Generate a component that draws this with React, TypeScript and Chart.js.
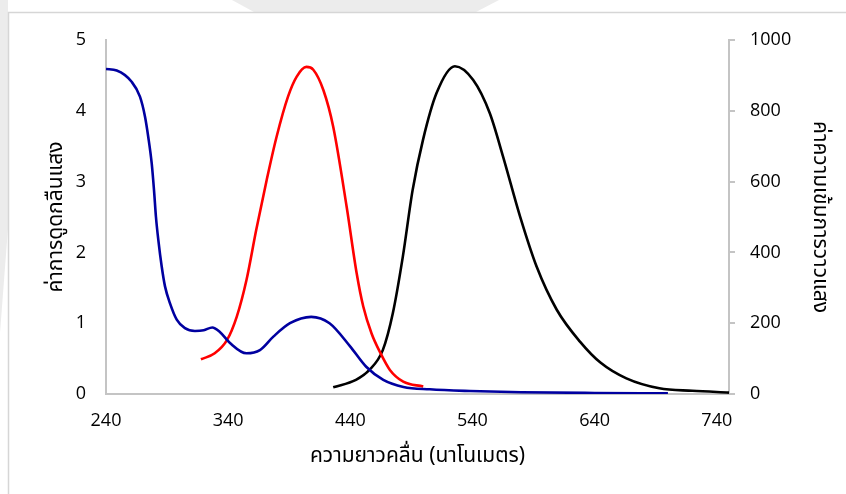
import React, { useEffect, useRef } from "react";
import { Chart, registerables } from "chart.js";

Chart.register(...registerables);

// Absorbance spectrum (left axis)
const ABS_WAVELENGTH = [240, 248.8, 261, 267.8, 271.9, 274.6, 277.4, 279.3, 280.9, 282.8, 285.6, 288.3, 292.4, 297.9, 304.6, 312.8, 320, 327, 333, 341.5, 355, 366, 377, 390.6, 408, 423, 440, 453, 467, 483.5, 505, 538, 580, 640, 700];
const ABSORBANCE = [4.59, 4.57, 4.41, 4.2, 3.92, 3.63, 3.26, 2.88, 2.5, 2.18, 1.8, 1.52, 1.28, 1.05, 0.93, 0.89, 0.9, 0.94, 0.88, 0.72, 0.575, 0.62, 0.81, 1.0, 1.09, 1.0, 0.67, 0.385, 0.2, 0.1, 0.066, 0.042, 0.025, 0.015, 0.01];

// Excitation spectrum (right axis)
const EXC_WAVELENGTH = [317.7, 329, 339, 347, 355, 363, 371.5, 379.6, 389, 396, 404, 409.7, 418, 426, 437, 445.2, 450.6, 457.4, 464.2, 472.4, 483.3, 499.7];
const EXCITATION = [98, 115, 152, 218, 322, 464, 604, 726, 840, 896, 924, 916, 858, 755, 529, 341, 247, 171, 119, 68, 35, 21];

// Emission spectrum (right axis)
const EMI_WAVELENGTH = [426, 444.6, 455.6, 466.6, 474.8, 483, 491, 499.5, 510.6, 525.6, 540.6, 554.2, 565.1, 579, 592.5, 609, 628, 645, 666, 693, 720, 750];
const EMISSION = [19, 40, 68, 124, 228, 388, 576, 718, 850, 926, 887, 793, 670, 501, 360, 238, 148, 88, 44, 16, 9, 4];

const X_TICKS = [240, 340, 440, 540, 640, 740];

const X_TITLE = "ความยาวคลื่น (นาโนเมตร)";
const Y_LEFT_TITLE = "ค่าการดูดกลืนแสง";
const Y_RIGHT_TITLE = "ค่าความเข้มการวาวแสง";

const FONT = "'Open Sans', 'Noto Sans', sans-serif";
const THAI_FONT = "'Noto Sans Thai', 'Tahoma', 'Noto Sans', 'DejaVu Sans', sans-serif";
const AXIS_GRAY = "#c4c4c4";

const pts = (xs: number[], ys: number[]) => xs.map((x, i) => ({ x, y: ys[i] }));

const backdrop = {
  id: "backdrop",
  beforeDraw(chart: Chart) {
    const { ctx, width, height } = chart;
    ctx.save();
    ctx.fillStyle = "#ffffff";
    ctx.fillRect(0, 0, width, height);
    // faint shapes behind the frame
    ctx.fillStyle = "#ececec";
    ctx.beginPath();
    ctx.moveTo(232, 0);
    ctx.lineTo(499, 0);
    ctx.lineTo(476, 12);
    ctx.lineTo(254, 12);
    ctx.closePath();
    ctx.fill();
    ctx.beginPath();
    ctx.moveTo(0, 0);
    ctx.lineTo(8, 0);
    ctx.lineTo(8, 228);
    ctx.lineTo(0, 333);
    ctx.closePath();
    ctx.fill();
    // chart frame
    ctx.fillStyle = "#ffffff";
    ctx.fillRect(8, 12, width, height);
    ctx.strokeStyle = "#d6d6d6";
    ctx.lineWidth = 1.5;
    ctx.beginPath();
    ctx.moveTo(8.5, height + 2);
    ctx.lineTo(8.5, 12.5);
    ctx.lineTo(width + 2, 12.5);
    ctx.stroke();
    ctx.restore();
  },
  afterDraw(chart: Chart) {
    const { ctx, chartArea } = chart;
    const midY = (chartArea.top + chartArea.bottom) / 2;
    const midX = (chartArea.left + chartArea.right) / 2;
    ctx.save();
    ctx.fillStyle = "#000000";
    ctx.font = `21px ${THAI_FONT}`;
    ctx.textAlign = "center";
    ctx.textBaseline = "middle";
    ctx.fillText(X_TITLE, midX, 458);

    ctx.save();
    ctx.translate(58, midY);
    ctx.rotate(-Math.PI / 2);
    ctx.fillText(Y_LEFT_TITLE, 0, 0);
    ctx.restore();

    ctx.save();
    ctx.translate(818, midY);
    ctx.rotate(Math.PI / 2);
    ctx.fillText(Y_RIGHT_TITLE, 0, 0);
    ctx.restore();
    ctx.restore();
  },
};

export default function App() {
  const ref = useRef<HTMLCanvasElement | null>(null);

  useEffect(() => {
    if (!ref.current) return;
    const line = {
      pointRadius: 0,
      borderWidth: 2.6,
      cubicInterpolationMode: "monotone" as const,
      fill: false,
    };
    const tickFont = { family: FONT, size: 18 };
    const chart = new Chart(ref.current, {
      type: "line",
      data: {
        datasets: [
          { ...line, data: pts(ABS_WAVELENGTH, ABSORBANCE), borderColor: "#0000a0", yAxisID: "y" },
          { ...line, data: pts(EXC_WAVELENGTH, EXCITATION), borderColor: "#ff0000", yAxisID: "y1" },
          { ...line, data: pts(EMI_WAVELENGTH, EMISSION), borderColor: "#000000", yAxisID: "y1" },
        ],
      },
      options: {
        responsive: false,
        animation: false,
        layout: { padding: { top: 40, left: 0, right: 0, bottom: 0 } },
        plugins: { legend: { display: false }, tooltip: { enabled: false } },
        scales: {
          x: {
            type: "linear",
            min: 240,
            max: 750,
            afterBuildTicks: (scale: any) => {
              scale.ticks = X_TICKS.map((v) => ({ value: v }));
            },
            afterFit: (scale: any) => {
              scale.height = 100;
            },
            grid: { display: true, drawOnChartArea: false, drawTicks: false },
            border: { display: true, color: AXIS_GRAY, width: 2 },
            ticks: { padding: 16, color: "#000", font: tickFont, maxRotation: 0, autoSkip: false, callback: (v: any) => String(v) },
          },
          y: {
            position: "left",
            min: 0,
            max: 5,
            afterFit: (scale: any) => {
              scale.width = 106;
            },
            grid: { display: true, drawOnChartArea: false, drawTicks: false },
            border: { display: true, color: AXIS_GRAY, width: 2 },
            ticks: { stepSize: 1, padding: 20, color: "#000", font: tickFont, autoSkip: false, callback: (v: any) => String(v) },
          },
          y1: {
            position: "right",
            min: 0,
            max: 1000,
            afterFit: (scale: any) => {
              scale.width = 117;
            },
            grid: { display: true, drawOnChartArea: false, drawTicks: true, tickLength: 6, color: AXIS_GRAY, lineWidth: 2 },
            border: { display: true, color: AXIS_GRAY, width: 2 },
            ticks: { stepSize: 200, padding: 15, color: "#000", font: tickFont, autoSkip: false, callback: (v: any) => String(v) },
          },
        },
      },
      plugins: [backdrop],
    });
    return () => chart.destroy();
  }, []);

  return (
    <div style={{ position: "absolute", left: 0, top: 0, width: 846, height: 494 }}>
      <canvas ref={ref} width={846} height={494} />
    </div>
  );
}
